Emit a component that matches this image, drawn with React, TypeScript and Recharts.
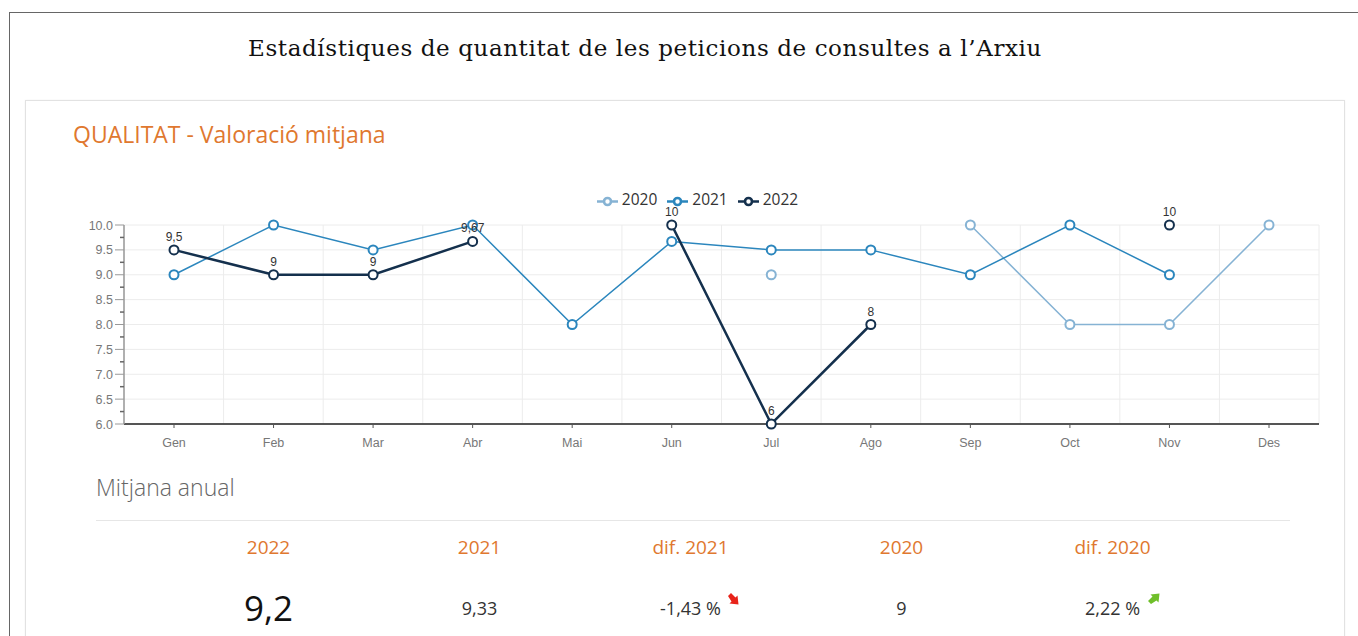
import React from 'react';
import {
  LineChart,
  Line,
  XAxis,
  YAxis,
  CartesianGrid,
  Legend,
  LabelList,
} from 'recharts';

const months = ['Gen', 'Feb', 'Mar', 'Abr', 'Mai', 'Jun', 'Jul', 'Ago', 'Sep', 'Oct', 'Nov', 'Des'];
const values2020 = [null, null, null, null, null, null, 9, null, 10, 8, 8, 10];
const values2021 = [9, 10, 9.5, 10, 8, 9.67, 9.5, 9.5, 9, 10, 9, null];
const values2022 = [9.5, 9, 9, 9.67, null, 10, 6, 8, null, null, 10, null];
const yTicks = [6, 6.25, 6.5, 6.75, 7, 7.25, 7.5, 7.75, 8, 8.25, 8.5, 8.75, 9, 9.25, 9.5, 9.75, 10];

const summaryHeads = ['2022', '2021', 'dif. 2021', '2020', 'dif. 2020'];
const summaryValues = ['9,2', '9,33', '-1,43 %', '9', '2,22 %'];

const data = months.map((m, i) => ({
  month: m,
  y2020: values2020[i],
  y2021: values2021[i],
  y2022: values2022[i],
}));

const C2020 = '#86b3d4';
const C2021 = '#2b86bd';
const C2022 = '#14304d';
const ORANGE = '#e0782f';

const YTick = (props: any) => {
  const { x, y, payload } = props;
  const v = payload.value;
  const major = Math.abs(v * 2 - Math.round(v * 2)) < 0.001;
  return (
    <g>
      <line x1={x - (major ? 9 : 4)} x2={x} y1={y} y2={y} stroke={major ? '#999' : '#666'} strokeWidth={major ? 1 : 1.5} />
      {major && (
        <text x={x - 11} y={y} dy={4.5} textAnchor='end' fontSize={12.5} fill='#777' fontFamily='Liberation Sans, Arial'>
          {v.toFixed(1)}
        </text>
      )}
    </g>
  );
};

const fmt = (v: any) => (v == null ? '' : String(Math.round(v * 100) / 100).replace('.', ','));

const Arrow = ({ up, color }: { up: boolean; color: string }) => (
  <svg width={13} height={13} viewBox='0 0 13 13' style={{ position: 'absolute', top: up ? -4 : -3, right: up ? -21 : -19 }}>
    <g transform={up ? 'rotate(-90 6.5 6.5)' : ''}>
      <path d='M1,3 L4,0 L8.5,4.5 L10.5,2.5 L11.5,11.5 L2.5,10.5 L4.5,8.5 Z' fill={color} />
    </g>
  </svg>
);

const App = () => {
  return (
    <div
      style={{
        position: 'absolute',
        left: 0,
        top: 0,
        width: 1358,
        height: 636,
        overflow: 'hidden',
        background: '#fff',
      }}
    >
      <div
        style={{
          position: 'absolute',
          left: 9,
          top: 12,
          width: 1400,
          height: 700,
          border: '1px solid #666',
        }}
      />
      <div
        style={{
          position: 'absolute',
          left: 0,
          top: 35,
          width: 1290,
          textAlign: 'center',
          fontFamily: 'DejaVu Serif, serif',
          fontSize: 23,
          letterSpacing: 0.6,
          color: '#111',
        }}
      >
        Estadístiques de quantitat de les peticions de consultes a l’Arxiu
      </div>
      <div
        style={{
          position: 'absolute',
          left: 25,
          top: 100,
          width: 1318,
          height: 600,
          border: '1px solid #e2e2e2',
          boxShadow: '0 0 2px rgba(0,0,0,0.05)',
        }}
      />
      <div
        style={{
          position: 'absolute',
          left: 73,
          top: 118,
          fontFamily: 'Open Sans, sans-serif',
          fontSize: 23,
          color: ORANGE,
        }}
      >
        QUALITAT - Valoració mitjana
      </div>

      <div style={{ position: 'absolute', left: 25, top: 180 }}>
        <LineChart
          width={1320}
          height={280}
          data={data}
          margin={{ top: 45, right: 26, left: 39, bottom: 6 }}
        >
          <CartesianGrid
            stroke='#ececec'
            verticalCoordinatesGenerator={({ offset }: any) =>
              months.map((_, i) => offset.left + (offset.width * (i + 1)) / 12).concat([offset.left])
            }
            horizontalCoordinatesGenerator={({ offset }: any) =>
              [0, 1, 2, 3, 4, 5, 6, 7, 8].map((i) => offset.top + (offset.height * i) / 8)
            }
          />
          <XAxis
            dataKey='month'
            padding={{ left: 50, right: 50 }}
            tickSize={4}
            tickMargin={10}
            stroke='#555'
            axisLine={{ stroke: '#555', strokeWidth: 2 }}
            tickLine={{ stroke: '#555' }}
            tick={{ fontSize: 12.5, fill: '#777', fontFamily: 'Liberation Sans, Arial' }}
            height={30}
          />
          <YAxis
            domain={[6, 10]}
            ticks={yTicks}
            interval={0}
            width={60}
            tickSize={0}
            tickMargin={0}
            tickLine={false}
            axisLine={{ stroke: '#999', strokeWidth: 1.5 }}
            tick={<YTick />}
          />
          <Legend
            verticalAlign='middle'
            align='center'
            layout='horizontal'
            iconSize={21}
            wrapperStyle={{ top: 8, left: 50 }}
            formatter={(value: any) => (
              <span style={{ color: '#333', fontSize: 15.5, fontFamily: 'Open Sans, sans-serif' }}>{value}</span>
            )}
          />
          <Line
            name='2020'
            dataKey='y2020'
            stroke={C2020}
            strokeWidth={1.5}
            dot={{ r: 4.5, fill: '#fff', stroke: C2020, strokeWidth: 2 }}
            legendType='line'
            isAnimationActive={false}
          />
          <Line
            name='2021'
            dataKey='y2021'
            stroke={C2021}
            strokeWidth={1.5}
            dot={{ r: 4.5, fill: '#fff', stroke: C2021, strokeWidth: 2 }}
            legendType='line'
            isAnimationActive={false}
          />
          <Line
            name='2022'
            dataKey='y2022'
            stroke={C2022}
            strokeWidth={2.5}
            dot={{ r: 4.5, fill: '#fff', stroke: C2022, strokeWidth: 2 }}
            legendType='line'
            isAnimationActive={false}
          >
            <LabelList
              dataKey='y2022'
              position='top'
              offset={9}
              formatter={fmt}
              fill='#333'
              stroke='none'
              fontSize={12}
              fontFamily='Liberation Sans, Arial'
            />
          </Line>
        </LineChart>
      </div>

      <div
        style={{
          position: 'absolute',
          left: 96,
          top: 471,
          fontFamily: 'Open Sans, sans-serif',
          fontWeight: 300,
          fontSize: 23,
          color: '#666',
        }}
      >
        Mitjana anual
      </div>
      <div style={{ position: 'absolute', left: 96, top: 520, width: 1194, height: 1, background: '#e6e6e6' }} />

      {summaryHeads.map((h, i) => (
        <div
          key={h}
          style={{
            position: 'absolute',
            left: 163 + i * 211,
            width: 211,
            top: 534,
            textAlign: 'center',
            fontFamily: 'Open Sans, sans-serif',
            fontSize: 19,
            color: ORANGE,
          }}
        >
          {h}
        </div>
      ))}
      {summaryValues.map((v, i) => (
        <div
          key={i}
          style={{
            position: 'absolute',
            left: 163 + i * 211,
            width: 211,
            top: i === 0 ? 584 : 596,
            textAlign: 'center',
            fontFamily: 'Open Sans, sans-serif',
            fontSize: i === 0 ? 35 : 18,
            color: i === 0 ? '#111' : '#333',
          }}
        >
          <span style={{ position: 'relative' }}>
            {v}
            {i === 2 && <Arrow up={false} color='#e8231a' />}
            {i === 4 && <Arrow up={true} color='#6fbf2a' />}
          </span>
        </div>
      ))}
    </div>
  );
};

export default App;
